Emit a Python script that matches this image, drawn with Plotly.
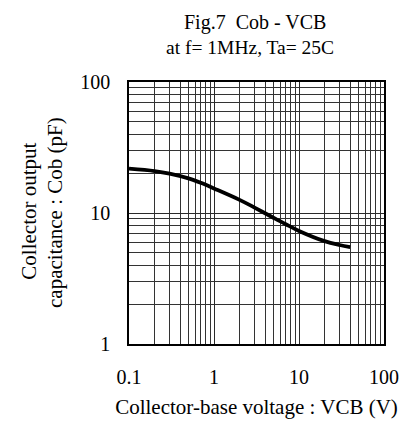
import plotly.graph_objects as go

# Data
vcb = [0.1, 0.2, 0.3, 0.5, 0.7, 1, 2, 3, 5, 7, 10, 20, 30, 40]
cob = [21.8, 20.9, 20.0, 18.4, 17.0, 15.4, 12.6, 11.0, 9.2, 8.2, 7.3, 6.1, 5.7, 5.5]

x_major = [0.1, 1, 10, 100]
x_major_text = ["0.1", "1", "10", "100"]
y_major = [1, 10, 100]
y_major_text = ["1", "10", "100"]

x_minor = [m * d for d in [0.1, 1, 10] for m in range(2, 10)]
y_minor = [m * d for d in [1, 10] for m in range(2, 10)]

title_lines = ["Fig.7  Cob - VCB", "at f= 1MHz, Ta= 25C"]
ytitle_lines = ["Collector output", "capacitance : Cob (pF)"]
xtitle = "Collector-base voltage : VCB (V)"

FONT = "Liberation Serif, Times New Roman, serif"

fig = go.Figure()
fig.add_trace(go.Scatter(x=vcb, y=cob, mode="lines",
                         line=dict(color="black", width=3.8, shape="spline", smoothing=1),
                         showlegend=False, hoverinfo="skip"))

# plot area: 255 x 262 px; page body has an 8px margin
fig.update_layout(
    width=402, height=422,
    margin=dict(l=121, r=26, t=74, b=86),
    paper_bgcolor="white", plot_bgcolor="white",
    font=dict(family=FONT, size=20, color="black"),
)

fig.add_annotation(text=title_lines[0], xref="paper", yref="paper", x=0.494, y=1,
                   yshift=60, xanchor="center", yanchor="middle", showarrow=False,
                   font=dict(family=FONT, size=20, color="black"))
fig.add_annotation(text=title_lines[1], xref="paper", yref="paper", x=0.475, y=1,
                   yshift=35, xanchor="center", yanchor="middle", showarrow=False,
                   font=dict(family=FONT, size=19.5, color="black"))
fig.add_annotation(text=ytitle_lines[0], xref="paper", yref="paper", x=0, y=0.505,
                   xshift=-100, xanchor="center", yanchor="middle", textangle=-90, showarrow=False,
                   font=dict(family=FONT, size=21, color="black"))
fig.add_annotation(text=ytitle_lines[1], xref="paper", yref="paper", x=0, y=0.5,
                   xshift=-74, xanchor="center", yanchor="middle", textangle=-90, showarrow=False,
                   font=dict(family=FONT, size=21, color="black"))

fig.update_xaxes(type="log", range=[-1, 2], tickvals=x_major, ticktext=x_major_text,
                 showgrid=True, gridcolor="#2a2a2a", gridwidth=1, ticks="",
                 showline=True, mirror=True, linecolor="black", linewidth=1.5,
                 minor=dict(tickvals=x_minor, showgrid=True, gridcolor="#333", gridwidth=1, ticks=""),
                 tickfont=dict(size=20), ticklabelstandoff=14,
                 title=dict(text=xtitle, font=dict(size=21), standoff=13),
                 zeroline=False)
fig.update_yaxes(type="log", range=[0, 2], tickvals=y_major, ticktext=y_major_text,
                 showgrid=True, gridcolor="#2a2a2a", gridwidth=1, ticks="",
                 showline=True, mirror=True, linecolor="black", linewidth=1.5,
                 minor=dict(tickvals=y_minor, showgrid=True, gridcolor="#333", gridwidth=1, ticks=""),
                 tickfont=dict(size=20), ticklabelstandoff=13,
                 zeroline=False)

fig.write_html("out.html")
